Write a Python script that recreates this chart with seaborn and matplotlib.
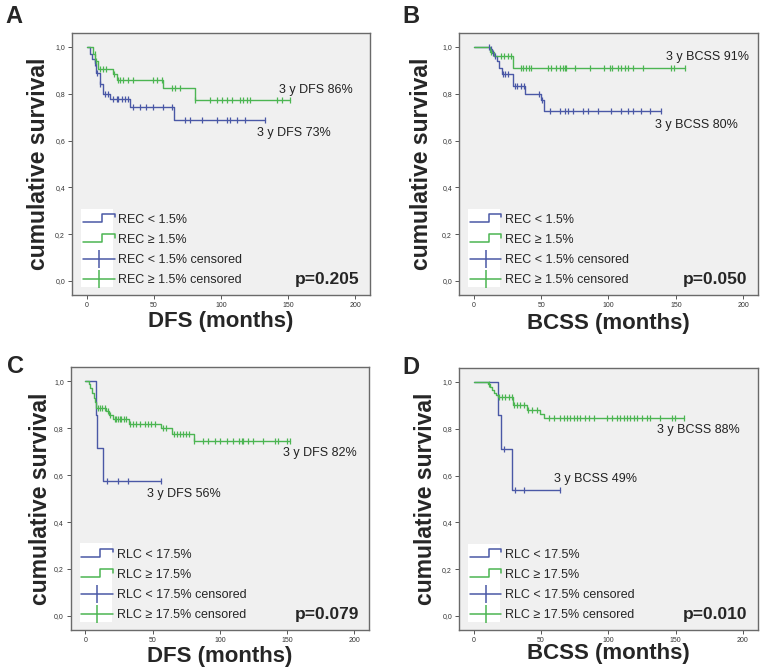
import numpy as np
import pandas as pd
import matplotlib
matplotlib.use('Agg')
import matplotlib.pyplot as plt
import seaborn as sns
from matplotlib.lines import Line2D
from matplotlib.patches import Rectangle
from matplotlib.legend_handler import HandlerBase

# ---- panel A: DFS by REC ----
a_low_t = [0, 2.7, 4.2, 6, 7.2, 9.7, 12.2, 17.7, 32.1, 64.9, 132.8]
a_low_s = [1.0, 0.97, 0.95, 0.93, 0.888, 0.84, 0.80, 0.777, 0.742, 0.686, 0.686]
a_low_cens = [6, 8, 9.9, 13.4, 15.9, 19.6, 22.2, 23.4, 25.9, 28.4, 30.8, 34.6, 39.6, 44.5,
              49.5, 56.9, 63.2, 73.1, 76.9, 85.6, 96.8, 104.2, 106.7, 111.7, 117.9, 132.8]
a_high_t = [0, 4.7, 6.5, 8.5, 19.2, 22.2, 56.5, 80.3, 151.5]
a_high_s = [1.0, 0.97, 0.94, 0.905, 0.885, 0.858, 0.824, 0.773, 0.773]
a_high_cens = [6, 7.2, 9.7, 12.2, 14.7, 20.5, 23.5, 24.6, 27.1, 30.8, 34.6, 49.5, 52, 55.7,
               63.2, 65.7, 69.4, 80.6, 91.8, 96.8, 100.5, 104.2, 108, 114.2, 116.7, 119.2,
               121.6, 141.6, 145.3, 151.5]

# ---- panel B: BCSS by REC ----
b_low_t = [0, 12, 13.6, 15, 17, 19, 21, 29, 38.4, 49.6, 52, 139.3]
b_low_s = [1.0, 0.99, 0.975, 0.96, 0.94, 0.91, 0.883, 0.834, 0.801, 0.775, 0.726, 0.726]
b_low_cens = [11, 12.5, 14, 16, 21.6, 23.3, 25.3, 30.6, 32.3, 34.8, 37.3, 48.4, 50.5, 56.3,
              63.7, 67.4, 69.9, 73.6, 81, 84.8, 92.2, 102, 109.6, 114.5, 118.2, 124.5,
              130.6, 139.3]
b_high_t = [0, 12, 15, 29, 156.7]
b_high_s = [1.0, 0.98, 0.962, 0.912, 0.912]
b_high_cens = [13, 20.4, 22.8, 25.3, 27.3, 35, 36.5, 39, 40.7, 42.7, 55, 57.5, 61, 63.7, 66,
               67.4, 68.7, 74.9, 86, 97, 101, 103, 107, 109.6, 112, 114.5, 118, 125.6,
               146.7, 149, 156.7]

# ---- panel C: DFS by RLC ----
c_low_t = [0, 7.5, 8.7, 12.9, 56]
c_low_s = [1.0, 0.857, 0.716, 0.576, 0.576]
c_low_cens = [15.9, 24.1, 31.6, 56]
c_high_t = [0, 2.5, 3.4, 5, 6, 7, 8, 15, 17.4, 20.8, 32.3, 56.5, 64.5, 80.6, 152.2]
c_high_s = [1.0, 0.99, 0.97, 0.95, 0.93, 0.91, 0.887, 0.872, 0.855, 0.84, 0.819, 0.80,
            0.777, 0.744, 0.744]
c_high_cens = [9.2, 11, 12.4, 14.2, 16.5, 18.5, 21.6, 22.9, 24.1, 25.4, 26.6, 28.4, 29.9,
               32.8, 35.3, 37.8, 40.3, 44, 46.5, 49, 51.5, 57.6, 60, 65.7, 67.7, 70.1, 72.6,
               75.1, 77.1, 80.9, 87.6, 91.3, 96.3, 100, 105, 110, 114.4, 116.2, 117.4,
               121.1, 124.9, 132.3, 141, 143.5, 149.8, 152.2]

# ---- panel D: BCSS by RLC ----
d_low_t = [0, 18.1, 20.3, 28.5, 63.9]
d_low_s = [1.0, 0.857, 0.715, 0.537, 0.537]
d_low_cens = [22.5, 30.5, 37.1, 63.9]
d_high_t = [0, 10.7, 12, 13.5, 15, 16.5, 18.1, 29.2, 39.6, 49.5, 52.5, 156.4]
d_high_s = [1.0, 0.99, 0.98, 0.965, 0.955, 0.945, 0.938, 0.90, 0.882, 0.865, 0.846, 0.846]
d_high_cens = [11.5, 18.6, 21.1, 23.5, 26, 28.5, 29.8, 32, 34.5, 37, 40.5, 43.3, 47, 55.7,
               59.4, 64.4, 66.8, 69.3, 71.8, 74.2, 76.8, 79.2, 82.9, 85.4, 89.1, 99, 102.7,
               106.5, 108.9, 111.4, 113.9, 116.3, 118.8, 121.3, 125, 128.7, 131.2, 138.6,
               147.3, 149.7, 156.4]

panel_letters = ['A', 'B', 'C', 'D']
x_titles = ['DFS (months)', 'BCSS (months)', 'DFS (months)', 'BCSS (months)']
group_names = ['REC', 'REC', 'RLC', 'RLC']
cutoffs = ['1.5%', '1.5%', '17.5%', '17.5%']
p_values = ['p=0.205', 'p=0.050', 'p=0.079', 'p=0.010']
low_notes = ['3 y DFS 73%', '3 y BCSS 80%', '3 y DFS 56%', '3 y BCSS 49%']
high_notes = ['3 y DFS 86%', '3 y BCSS 91%', '3 y DFS 82%', '3 y BCSS 88%']
x_ticks = [0, 50, 100, 150, 200]
y_ticks = [0.0, 0.2, 0.4, 0.6, 0.8, 1.0]

BLUE = '#4a58a6'
GREEN = '#4cb552'

sns.set_theme(style='ticks')
plt.rcParams['font.family'] = ['Liberation Sans', 'DejaVu Sans']


class StepLine(Line2D):
    pass


class StepHandler(HandlerBase):
    def create_artists(self, legend, orig_handle, xdescent, ydescent, width, height,
                       fontsize, trans):
        x0, y0 = -xdescent, -ydescent
        xs = [x0, x0 + 0.6 * width, x0 + 0.6 * width, x0 + width, x0 + width]
        ys = [y0 + 0.1 * height, y0 + 0.1 * height, y0 + 1.05 * height,
              y0 + 1.05 * height, y0 + 0.6 * height]
        return [Line2D(xs, ys, color=orig_handle.get_color(), lw=1.1, transform=trans)]


def surv_at(times, surv, t):
    idx = np.searchsorted(times, t, side='right') - 1
    return np.asarray(surv)[idx]


def draw_curve(ax, times, surv, cens, color):
    curve = pd.DataFrame({'time': times, 'surv': surv})
    sns.lineplot(data=curve, x='time', y='surv', drawstyle='steps-post', color=color,
                 lw=1.0, estimator=None, sort=False, ax=ax)
    marks = pd.DataFrame({'time': cens, 'surv': surv_at(times, surv, cens)})
    sns.scatterplot(data=marks, x='time', y='surv', marker='|', s=24, linewidth=0.9,
                    color=color, ax=ax, zorder=3)


def draw_panel(ax, i, low, high, low_xy, high_xy):
    ax.set_facecolor('#f0f0f0')
    draw_curve(ax, *low, BLUE)
    draw_curve(ax, *high, GREEN)

    ax.set_xlim(-11, 211)
    ax.set_ylim(-0.06, 1.06)
    ax.set_xticks(x_ticks)
    ax.set_yticks(y_ticks)
    ax.set_yticklabels([f'{v:.1f}'.replace('.', ',') for v in y_ticks])
    ax.tick_params(length=3, width=0.7, color='#555555', labelsize=5, labelcolor='#333333',
                   pad=2)
    for sp in ax.spines.values():
        sp.set_visible(True)
        sp.set_color('#6a6a6a')
        sp.set_linewidth(1.0)

    ax.set_xlabel(x_titles[i], fontsize=16, fontweight='bold')
    ax.set_ylabel('cumulative survival', fontsize=16.5, fontweight='bold')
    ax.xaxis.label.set_va('center')
    ax.yaxis.label.set_va('center')

    g, c = group_names[i], cutoffs[i]
    handles = [StepLine([], [], color=BLUE), StepLine([], [], color=GREEN),
               Line2D([], [], color=BLUE, lw=1.1, marker='|', markersize=13, mew=1.1),
               Line2D([], [], color=GREEN, lw=1.1, marker='|', markersize=13, mew=1.1)]
    labels = [f'{g} < {c}', f'{g} ≥ {c}', f'{g} < {c} censored', f'{g} ≥ {c} censored']
    ax.add_patch(Rectangle((0.03, 0.03), 0.107, 0.30, transform=ax.transAxes,
                           facecolor='white', edgecolor='none', zorder=1))
    leg = ax.legend(handles, labels, loc='lower left', bbox_to_anchor=(-0.002, -0.009),
                    frameon=False, fontsize=9, handlelength=2.55, handletextpad=0.3,
                    labelspacing=0.65, numpoints=1,
                    handler_map={StepLine: StepHandler()})
    leg.set_zorder(2)

    ax.text(0.965, 0.06, p_values[i], transform=ax.transAxes, ha='right', va='center',
            fontsize=12.5, fontweight='bold')
    ax.text(low_xy[0], low_xy[1], low_notes[i], fontsize=9,
            ha=low_xy[2], va='center', color='#222222')
    ax.text(high_xy[0], high_xy[1], high_notes[i], fontsize=9,
            ha=high_xy[2], va='center', color='#222222')


fig = plt.figure(figsize=(7.6, 6.71), dpi=100)
boxes = [[0.0947, 0.5604, 0.3921, 0.3905], [0.6039, 0.5604, 0.3934, 0.3905],
         [0.0930, 0.0611, 0.3929, 0.3915], [0.6039, 0.0611, 0.3930, 0.3905]]
curves = [((a_low_t, a_low_s, a_low_cens), (a_high_t, a_high_s, a_high_cens)),
          ((b_low_t, b_low_s, b_low_cens), (b_high_t, b_high_s, b_high_cens)),
          ((c_low_t, c_low_s, c_low_cens), (c_high_t, c_high_s, c_high_cens)),
          ((d_low_t, d_low_s, d_low_cens), (d_high_t, d_high_s, d_high_cens))]
low_pos = [(182, 0.634, 'right'), (196.3, 0.666, 'right'), (46, 0.518, 'left'),
           (59.4, 0.587, 'left')]
high_pos = [(198.5, 0.817, 'right'), (204.5, 0.957, 'right'), (201.5, 0.696, 'right'),
            (198, 0.796, 'right')]
xlab_y = [-0.103, -0.107, -0.100, -0.090]
ylab_x = [-0.111, -0.124, -0.100, -0.112]
letter_xy = [(5, 23), (402, 23), (7, 373), (402, 374)]

for i, box in enumerate(boxes):
    ax = fig.add_axes(box)
    draw_panel(ax, i, curves[i][0], curves[i][1], low_pos[i], high_pos[i])
    ax.xaxis.set_label_coords(0.5, xlab_y[i])
    ax.yaxis.set_label_coords(ylab_x[i], 0.5)
    lx, ly = letter_xy[i]
    fig.text(lx / 760, 1 - ly / 671, panel_letters[i], fontsize=17, fontweight='bold',
             ha='left', va='baseline')

fig.savefig('out.png', dpi=100)
